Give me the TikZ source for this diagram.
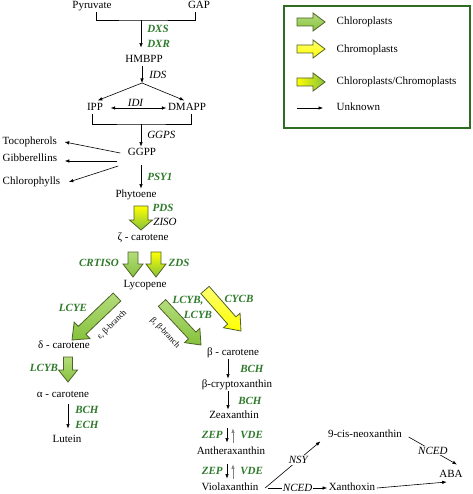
\documentclass[tikz,border=0pt]{standalone}
\usepackage{fontspec}
\setmainfont{Liberation Serif}
\usetikzlibrary{arrows.meta, calc, positioning}

\definecolor{grn}{HTML}{86C23C}
\definecolor{grnlt}{HTML}{B4DC7C}
\definecolor{yel}{HTML}{FFFF00}
\definecolor{yellt}{HTML}{FFFF70}
\definecolor{olivedk}{HTML}{4F6228}
\definecolor{enzgreen}{HTML}{2E7A2A}
\definecolor{legendgreen}{HTML}{2F6B23}

% block arrow: style, start, end, half shaft, half head, head length
\newcommand{\blockarrow}[6]{%
  \path (#2) coordinate (ba-s) (#3) coordinate (ba-e) ($(ba-e)!#6!(ba-s)$) coordinate (ba-h);
  \path[#1] ($(ba-s)!#4!90:(ba-e)$) -- ($(ba-h)!#4!90:(ba-e)$) -- ($(ba-h)!#5!90:(ba-e)$) -- (ba-e)
    -- ($(ba-h)!#5!-90:(ba-e)$) -- ($(ba-h)!#4!-90:(ba-e)$) -- ($(ba-s)!#4!-90:(ba-e)$) -- cycle;}

\begin{document}
\begin{tikzpicture}[
    x=1pt, y=-1pt,
    font=\fontsize{11}{13}\selectfont,
    txt/.style={inner sep=1.5pt, text height=7.5pt, text depth=2pt},
    enz/.style={font=\fontsize{11}{15}\selectfont\bfseries\itshape, text=enzgreen, inner sep=1pt, align=left},
    enzk/.style={font=\fontsize{11}{15}\selectfont\itshape, inner sep=1pt},
    enzon/.style={enzk, fill=white},
    branch/.style={font=\fontsize{8.5}{10}\selectfont, inner sep=0pt},
    thinarrow/.style={-{Latex[length=4.5pt,width=3.5pt]}, line width=0.6pt},
    dblarrow/.style={{Latex[length=4.5pt,width=3.5pt]}-{Latex[length=4.5pt,width=3.5pt]}, line width=0.6pt},
    chlarrow/.style={draw=olivedk, line width=0.8pt, top color=grnlt, bottom color=grn},
    chrarrow/.style={draw=olivedk, line width=0.8pt, top color=yellt, bottom color=yel},
    mixarrow/.style={draw=olivedk, line width=0.8pt, top color=yel, bottom color=grn},
    legmix/.style={draw=olivedk, line width=0.8pt, left color=yel, right color=grn},
]
\useasboundingbox (0,0) rectangle (472,494);

% Nodes
\node[txt] (pyr) at (92,6) {Pyruvate};
\node[txt] (gap) at (199,6) {GAP};
\node[txt] (hmbpp) at (144,60) {HMBPP};
\node[txt] (ipp) at (95,108) {IPP};
\node[txt] (dmapp) at (187,108) {DMAPP};
\node[txt] (ggpp) at (142,153) {GGPP};
\node[txt, anchor=west] (toco) at (1,142) {Tocopherols};
\node[txt, anchor=west] (gibb) at (1,159) {Gibberellins};
\node[txt, anchor=west] (chlph) at (1,182) {Chlorophylls};
\node[txt] (phyt) at (136,195) {Phytoene};
\node[txt] (zcar) at (143,238) {ζ - carotene};
\node[txt] (lyco) at (145,285) {Lycopene};
\node[txt] (dcar) at (64,346) {δ - carotene};
\node[txt] (acar) at (63,395) {α - carotene};
\node[txt] (lut) at (67,440) {Lutein};
\node[txt] (bcar) at (233,353) {β - carotene};
\node[txt] (bcry) at (237,385) {β-cryptoxanthin};
\node[txt] (zea) at (234,416) {Zeaxanthin};
\node[txt] (anth) at (231,452) {Antheraxanthin};
\node[txt] (viol) at (230,488) {Violaxanthin};
\node[txt] (neox) at (365,435) {9-cis-neoxanthin};
\node[txt] (xan) at (352,488) {Xanthoxin};
\node[txt] (aba) at (451,475) {ABA};

% joins and columns
\coordinate (topjoin) at (141,20);
\coordinate (split) at (142,83);
\coordinate (botjoin) at (141,124);
\coordinate (lx) at (68,0);
\coordinate (bx) at (228,0);
\coordinate (zx1) at (227,0);
\coordinate (zx2) at (233,0);

% Thin connectors
\draw[line width=0.6pt] ([xshift=4pt]pyr.south) |- (topjoin) -| ([xshift=-4pt]gap.south);
\draw[thinarrow, shorten >=6pt] (topjoin) -- (topjoin |- hmbpp.north) node[midway, right=5pt, enz] (dxs) {DXS\\DXR};
\draw[thinarrow] (hmbpp.south -| split) -- (split) node[midway, right=6pt, enzk] (ids) {IDS};
\draw[thinarrow, shorten >=3pt] (split) -- (ipp.north);
\draw[thinarrow, shorten >=3pt] (split) -- (dmapp.north);
\draw[dblarrow, shorten <=6pt] (ipp.east) -- (dmapp.west) node[midway, above=0pt, enzk] (idi) {IDI};
\draw[line width=0.6pt] ([xshift=-3pt]ipp.south) |- (botjoin) -| ([xshift=4pt]dmapp.south);
\draw[thinarrow] (botjoin) -- (botjoin |- ggpp.north) node[midway, right=5pt, enzk] (ggps) {GGPS};
\draw[thinarrow] ([xshift=-6pt]ggpp.west) -- ([xshift=6pt]toco.east);
\draw[thinarrow] ([xshift=-9pt,yshift=-8pt]ggpp.west) -- ([xshift=6pt,yshift=-2pt]gibb.east);
\draw[thinarrow] ([xshift=-8pt,yshift=-13pt]ggpp.west) -- ([xshift=7pt]chlph.east);
\draw[thinarrow, shorten <=6pt] (ggpp.south -| botjoin) -- (botjoin |- phyt.north) node[pos=0.6, right=5pt, enz] (psy) {PSY1};

\draw[thinarrow, shorten <=3pt, shorten >=5pt] (acar.south -| lx) -- (lx |- lut.north) node[midway, right=6pt, enz] (bch1) {BCH\\ECH};
\draw[thinarrow] (bcar.south -| bx) -- (bx |- bcry.north) node[midway, right=11pt, enz] (bch2) {BCH};
\draw[thinarrow] (bcry.south -| bx) -- (bx |- zea.north) node[midway, right=9pt, enz] (bch3) {BCH};
\draw[thinarrow, shorten <=6pt, shorten >=3pt] (zea.south -| zx1) -- (zx1 |- anth.north) node[pos=0.55, left=3pt, enz] (zep1) {ZEP};
\draw[thinarrow, gray, shorten <=3pt, shorten >=6pt] (anth.north -| zx2) -- (zx2 |- zea.south) node[pos=0.45, right=6pt, enz] (vde1) {VDE};
\draw[thinarrow, shorten <=6pt, shorten >=3pt] (anth.south -| zx1) -- (zx1 |- viol.north) node[pos=0.55, left=3pt, enz] (zep2) {ZEP};
\draw[thinarrow, gray, shorten <=3pt, shorten >=6pt] (viol.north -| zx2) -- (zx2 |- anth.south) node[pos=0.45, right=6pt, enz] (vde2) {VDE};

\draw[thinarrow] ([xshift=5pt]viol.east) -- ([xshift=-6pt]neox.south west) node[pos=0.6, enzon] (nsy) {NSY};
\draw[thinarrow] ([xshift=8pt]viol.east) -- (xan.west) node[midway, enzon] (nced1) {NCED};
\draw[thinarrow] ([xshift=5pt,yshift=-2pt]neox.east) -- ([xshift=6pt,yshift=4pt]aba.north) node[midway, enzon] (nced2) {NCED};
\draw[thinarrow] (xan.east) -- ([xshift=9pt,yshift=-7pt]aba.west);

% Block arrows
\coordinate (pds-s) at (141,206);
\coordinate (pds-e) at (141,230);
\blockarrow{mixarrow}{pds-s}{pds-e}{7pt}{11.5pt}{10pt}
\coordinate (crt-s) at (133,252);
\coordinate (crt-e) at (133,277);
\blockarrow{chlarrow}{crt-s}{crt-e}{5pt}{10pt}{13pt}
\coordinate (zds-s) at (156,252);
\coordinate (zds-e) at (156,277);
\blockarrow{mixarrow}{zds-s}{zds-e}{5pt}{10pt}{13pt}
\coordinate (lcye-s) at (117,297);
\coordinate (lcye-e) at (72,340);
\blockarrow{chlarrow}{lcye-s}{lcye-e}{5.5pt}{11.5pt}{14pt}
\coordinate (lcyb-s) at (162,303);
\coordinate (lcyb-e) at (201,345);
\blockarrow{chlarrow}{lcyb-s}{lcyb-e}{5pt}{10.5pt}{13pt}
\coordinate (cycb-s) at (205,290);
\coordinate (cycb-e) at (241,331);
\blockarrow{chrarrow}{cycb-s}{cycb-e}{5.5pt}{11pt}{14pt}
\coordinate (dlcyb-s) at (68,357);
\coordinate (dlcyb-e) at (68,382);
\blockarrow{chlarrow}{dlcyb-s}{dlcyb-e}{4.5pt}{9.5pt}{12pt}

% Enzyme labels at block arrows
\node[enz] (pds) at (163,208) {PDS};
\node[enzk] (ziso) at (165,222) {ZISO};
\node[enz] (crtiso) at (99,263) {CRTISO};
\node[enz] (zds) at (179,263) {ZDS};
\node[enz] (lcye) at (73,308) {LCYE};
\node[enz] (lcyba) at (188,301) {LCYB,};
\node[enz] (lcybb) at (198,315) {LCYB};
\node[enz] (cycb) at (239,299) {CYCB};
\node[enz] (lcybc) at (44,368) {LCYB};
\node[branch, rotate=45] (epsbr) at (112,325) {ε, β-branch};
\node[branch, rotate=-47] (betabr) at (165,333) {β, β-branch};

% Legend
\node[draw=legendgreen, line width=1.5pt, minimum width=186pt, minimum height=122pt, inner sep=0pt] (legend) at (377,67) {};
\coordinate (lg1-s) at (297,22);
\coordinate (lg1-e) at (325,22);
\blockarrow{chlarrow}{lg1-s}{lg1-e}{4pt}{9pt}{12pt}
\coordinate (lg2-s) at (297,49);
\coordinate (lg2-e) at (325,49);
\blockarrow{chrarrow}{lg2-s}{lg2-e}{4pt}{9pt}{12pt}
\coordinate (lg3-s) at (297,82);
\coordinate (lg3-e) at (325,82);
\blockarrow{legmix}{lg3-s}{lg3-e}{4pt}{9pt}{12pt}
\coordinate (lg4-s) at (297,108);
\coordinate (lg4-e) at (323,108);
\draw[thinarrow] (lg4-s) -- (lg4-e);
\node[txt, anchor=west] (lg-chl) at (335,22) {Chloroplasts};
\node[txt, anchor=west] (lg-chr) at (335,50) {Chromoplasts};
\node[txt, anchor=west] (lg-mix) at (335,82) {Chloroplasts/Chromoplasts};
\node[txt, anchor=west] (lg-unk) at (335,108) {Unknown};

\end{tikzpicture}
\end{document}
